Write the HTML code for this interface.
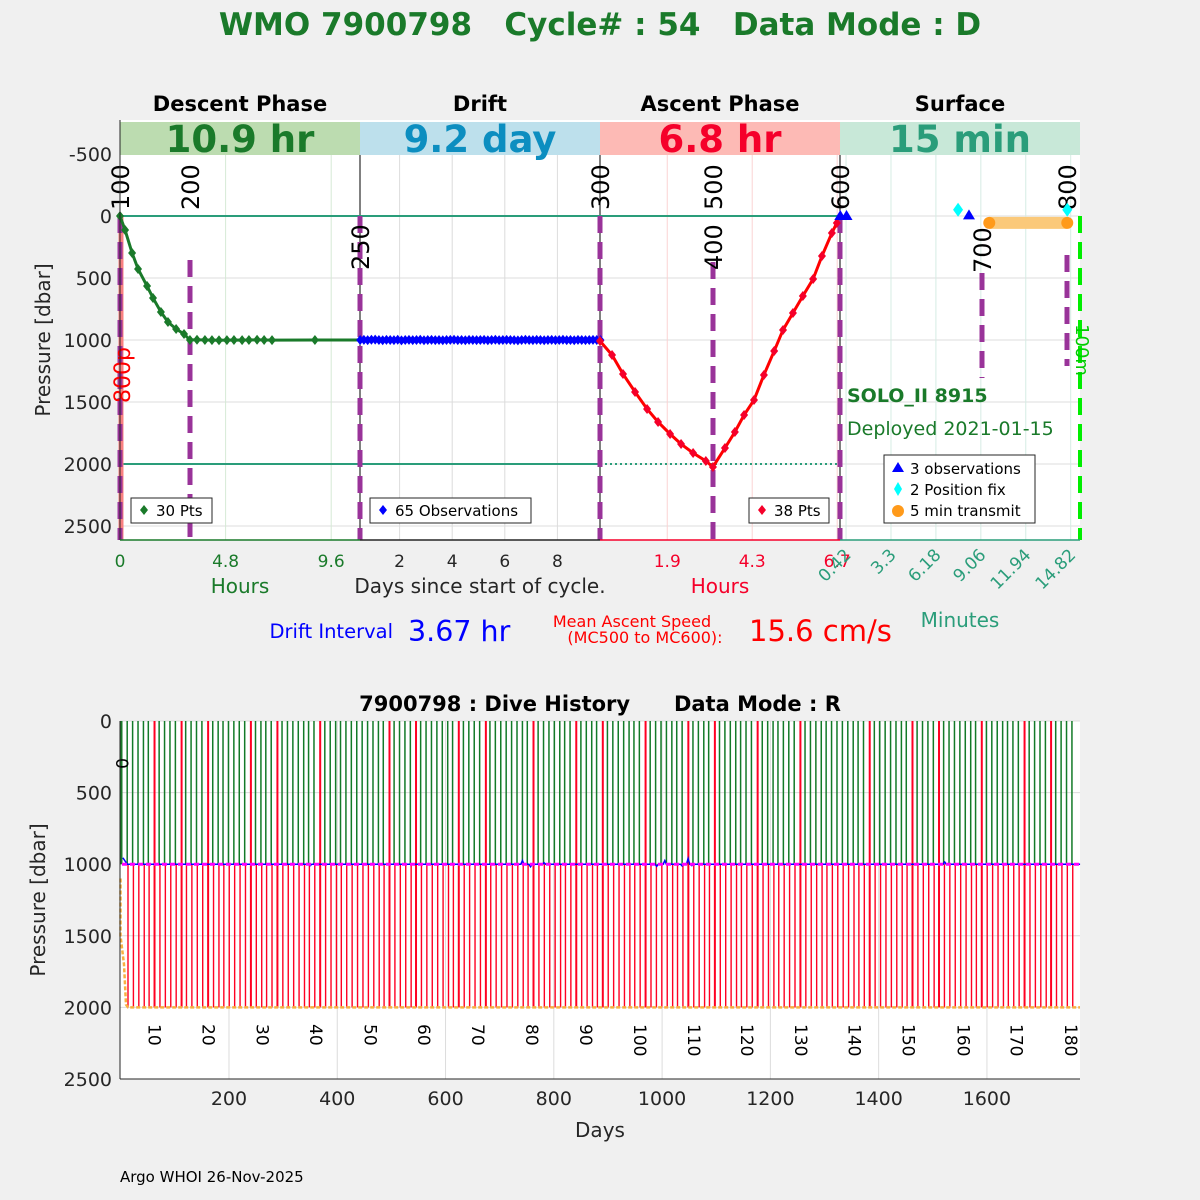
<!DOCTYPE html>
<html><head><meta charset="utf-8"><title>WMO 7900798 Cycle 54</title>
<style>
html,body{margin:0;padding:0;background:#f0f0f0;}
svg{display:block;font-family:"DejaVu Sans","Liberation Sans",sans-serif;}
</style></head>
<body>
<svg id="chart" width="1200" height="1200" viewBox="0 0 1200 1200" xmlns="http://www.w3.org/2000/svg">
<rect x="0" y="0" width="1200" height="1200" fill="#f0f0f0"/>
<text x="600" y="35" text-anchor="middle" font-size="31" font-weight="bold" fill="#1a7a2a" style="white-space:pre">WMO 7900798   Cycle# : 54   Data Mode : D</text>

<g id="topPanel"></g>
<g id="bottomPanel"></g>

<text x="120" y="1182" font-size="15" fill="#000">Argo WHOI 26-Nov-2025</text>
</svg>
<script>
// ---------- TOP PANEL DATA ----------
const pressureTicks = [-500, 0, 500, 1000, 1500, 2000, 2500];
const descentHours = [0,0.23,0.55,0.82,1.23,1.5,1.86,2.18,2.55,2.91,3.18,3.5,3.86,4.18,4.5,4.86,5.18,5.55,5.86,6.23,6.55,6.91,8.86];
const descentPres  = [0,113,298,427,565,661,774,855,911,952,1000,998,1000,1001,1002,1001,1000,1001,1000,998,1000,1001,1000];
const driftPres = [1000,999,1001,998,997,1000,1002,999,1000,1001,998,1003,1000,999,1001,1000,998,1002,1000,999,1001,1000,1002,1000,999,998,1001,1000,1002,999,1000,1001,1000,999,1002,1000,998,1001,1000,999,1000,1001,1003,1000,998,1000,1001,999,1000,1002,1000,999,1001,1000,998,1001,1000,1002,999,1000,1001,1000,999,1000,1001];
const ascentHours = [0,0.34,0.65,0.99,1.33,1.64,1.98,2.29,2.63,2.99,3.19,3.53,3.81,4.07,4.35,4.63,4.92,5.17,5.45,5.73,6.02,6.27,6.55,6.69];
const ascentPres  = [1008,1121,1274,1419,1556,1661,1758,1839,1911,1976,2024,1871,1742,1605,1484,1282,1089,919,782,645,508,323,137,56];
const surfObsMin = [0.05,0.45,8.3];
const surfObsPres = [0,0,-5];
const surfFixMin = [7.6,14.6];
const surfFixPres = [-50,-50];
const surfTxMin = [9.6,14.6];
const surfTxPres = [55,55];
const descentTicks = [0,4.8,9.6];
const driftTicks = [2,4,6,8];
const ascentTicks = [1.9,4.3,6.7];
const surfTicks = [0.42,3.3,6.18,9.06,11.94,14.82];

// ---------- BOTTOM PANEL DATA ----------
const histPresTicks = [0,500,1000,1500,2000,2500];
const histDayTicks = [200,400,600,800,1000,1200,1400,1600];
const cycleDays = [12,22,32,42,51,61,71,81,91,101,111,120,130,140,150,160,170,180,189,199,
209,219,229,239,249,259,268,278,288,298,308,318,328,338,347,357,367,377,387,397,
406,416,426,436,446,456,466,476,485,495,505,515,525,535,544,554,564,574,584,594,
604,613,623,633,643,653,663,673,682,692,702,712,722,732,742,751,761,771,781,791,
801,811,820,830,840,850,860,870,879,889,899,909,919,929,939,948,958,968,978,988,
998,1008,1018,1027,1037,1047,1057,1067,1077,1086,1096,1106,1116,1126,1136,1145,1155,1165,1175,1185,
1195,1205,1214,1224,1234,1244,1254,1264,1274,1284,1294,1303,1313,1323,1333,1343,1353,1362,1372,1382,
1392,1402,1412,1422,1432,1442,1451,1461,1471,1481,1491,1501,1510,1520,1530,1540,1550,1560,1570,1579,
1589,1599,1609,1619,1629,1638,1648,1658,1668,1678,1688,1698,1708,1717,1727,1737,1747,1757];
const fullRedCycles = [5,10,15,23,28,36,49,54,62,67,76,84,89,97,105,110,118,126,139,147,152,160,168,173];
const cycleLabels = ["10","20","30","40","50","60","70","80","90","100","110","120","130","140","150","160","170","180"];
const cycleLabelDays = [62,162,262,361,461,560,660,760,859,959,1059,1157,1257,1355,1455,1557,1655,1755];
const driftBlipDays = [350,742,757,782,990,1005,1037,1048,1055,1522];
const driftBlipPres = [1010,975,1018,990,1015,975,1012,960,1010,985];

// ---------- SCALES ----------
const yT = p => 216 + p*0.124;
const xD = h => 120 + 22*h;
const xR = d => 347 + 26.3*d;
const xA = h => 600 + 35.4*h;
const xS = m => 839.5 + 15.6*m;
const xB = d => 120.7 + 0.5414*d;
const yB = p => 721 + p*0.1432;

const NS = "http://www.w3.org/2000/svg";
function mk(parent, tag, attrs, txt){
  const e = document.createElementNS(NS, tag);
  for (const k in attrs) e.setAttribute(k, attrs[k]);
  if (txt !== undefined) e.textContent = txt;
  parent.appendChild(e);
  return e;
}
const tp = document.getElementById('topPanel');
const bot = document.getElementById('bottomPanel');

// ---------- TOP PANEL ----------
let el;
el = mk(tp,'rect',{x:120,y:120,width:960,height:420,fill:'#fff'});



pressureTicks.forEach(p=>{
  el = mk(tp,'line',{x1:120,x2:1080,y1:yT(p),y2:yT(p),stroke:'#dcdcdc','stroke-width':1});
  
  
  el = mk(tp,'text',{x:112,y:yT(p)+7,'text-anchor':'end','font-size':19,fill:'#262626'},String(p));
  
  
});
descentTicks.forEach(h=>{ if(h>0){ el=mk(tp,'line',{x1:xD(h),x2:xD(h),y1:155,y2:540,stroke:'#d6ead6'});  }});
driftTicks.forEach(d=>{ el=mk(tp,'line',{x1:xR(d),x2:xR(d),y1:155,y2:540,stroke:'#dcdcdc'});  });
ascentTicks.forEach(h=>{ el=mk(tp,'line',{x1:xA(h),x2:xA(h),y1:155,y2:540,stroke:'#fbd3d3'});  });
surfTicks.forEach(m=>{ el=mk(tp,'line',{x1:xS(m),x2:xS(m),y1:155,y2:540,stroke:'#d6ece4'});  });

const bands = [[120,'#bcdcb0','10.9 hr','#1a7a2a','Descent Phase'],[360,'#bde0ec','9.2 day','#0c8ec0','Drift'],[600,'#fdbab5','6.8 hr','#f5002a','Ascent Phase'],[840,'#c8e8d8','15 min','#2a9d7a','Surface']];
bands.forEach(b=>{
  el = mk(tp,'rect',{x:b[0],y:122,width:240,height:33,fill:b[1]});
  
  
  el = mk(tp,'text',{x:b[0]+120,y:152,'text-anchor':'middle','font-size':37,'font-weight':'bold',fill:b[3]},b[2]);
  
  
  el = mk(tp,'text',{x:b[0]+120,y:111,'text-anchor':'middle','font-size':21,'font-weight':'bold',fill:'#000'},b[4]);
  
  
});

[360,600,840].forEach(x=>{ el=mk(tp,'line',{x1:x,x2:x,y1:155,y2:540,stroke:'#000','stroke-width':1});  });

el = mk(tp,'line',{x1:120,x2:840,y1:yT(0),y2:yT(0),stroke:'#2a9d7a','stroke-width':2});  
el = mk(tp,'line',{x1:120,x2:600,y1:yT(2000),y2:yT(2000),stroke:'#2a9d7a','stroke-width':2});  
el = mk(tp,'line',{x1:600,x2:840,y1:yT(2000),y2:yT(2000),stroke:'#2a9d7a','stroke-width':2,'stroke-dasharray':'2 3'});  

el = mk(tp,'line',{x1:121,x2:121,y1:216,y2:540,stroke:'#f88080','stroke-width':5});  

const dashLines = [[120,216,540],[190,260,540],[360,216,540],[600,216,540],[713,262,540],[840,216,540],[982,273,378],[1067,255,366]];
dashLines.forEach(d=>{
  el = mk(tp,'line',{x1:d[0],x2:d[0],y1:d[1],y2:d[2],stroke:'#993399','stroke-width':5,'stroke-dasharray':'17 9'});
  
  
});
el = mk(tp,'line',{x1:1080,x2:1080,y1:216,y2:540,stroke:'#00ee00','stroke-width':4,'stroke-dasharray':'17 9'});  

const msgLbl = [[120,'100',210],[190,'200',210],[360,'250',270],[600,'300',210],[713,'500',210],[713,'400',270],[840,'600',210],[982,'700',273],[1067,'800',210]];
msgLbl.forEach(m=>{
  el = mk(tp,'text',{x:0,y:0,'font-size':24,fill:'#000',transform:`translate(${m[0]+9},${m[2]}) rotate(-90)`},m[1]);
  
  
});
el = mk(tp,'text',{x:0,y:0,'font-size':22,fill:'#ff0000',transform:'translate(130,375) rotate(-90)','text-anchor':'middle'},'800p');  
el = mk(tp,'text',{x:0,y:0,'font-size':18,fill:'#00cc00',transform:'translate(1076,350) rotate(90)','text-anchor':'middle'},'100m');  

el = mk(tp,'polyline',{points:descentHours.map((h,i)=>`${xD(h)},${yT(descentPres[i])}`).join(' ')+` 360,${yT(1000)}`,fill:'none',stroke:'#1a7a2a','stroke-width':3});
 
descentHours.forEach((h,i)=>{
  const x=xD(h), y=yT(descentPres[i]);
  el = mk(tp,'path',{d:`M${x},${y-5}L${x+4},${y}L${x},${y+5}L${x-4},${y}Z`,fill:'#1a7a2a'});
   
});
const driftPts = driftPres.map((p,i)=>[xR(0.5+i*0.1428), yT(p)]);
el = mk(tp,'polyline',{points:driftPts.map(q=>q.join(',')).join(' '),fill:'none',stroke:'#0000ff','stroke-width':3});
 
driftPts.forEach(q=>{
  el = mk(tp,'path',{d:`M${q[0]},${q[1]-5}L${q[0]+4},${q[1]}L${q[0]},${q[1]+5}L${q[0]-4},${q[1]}Z`,fill:'#0000ff'});
   
});
el = mk(tp,'polyline',{points:ascentHours.map((h,i)=>`${xA(h)},${yT(ascentPres[i])}`).join(' '),fill:'none',stroke:'#ff0000','stroke-width':3});
 
ascentHours.forEach((h,i)=>{
  const x=xA(h), y=yT(ascentPres[i]);
  el = mk(tp,'path',{d:`M${x},${y-5}L${x+4},${y}L${x},${y+5}L${x-4},${y}Z`,fill:'#f5002a'});
   
});
el = mk(tp,'line',{x1:xS(surfTxMin[0]),x2:xS(surfTxMin[1]),y1:yT(surfTxPres[0]),y2:yT(surfTxPres[1]),stroke:'#fbc97a','stroke-width':12});
 
surfTxMin.forEach((m,i)=>{ el=mk(tp,'circle',{cx:xS(m),cy:yT(surfTxPres[i]),r:6,fill:'#ff9a1a'});  });
surfObsMin.forEach((m,i)=>{ const x=xS(m),y=yT(surfObsPres[i]); el=mk(tp,'path',{d:`M${x},${y-6}L${x+6},${y+4}L${x-6},${y+4}Z`,fill:'#0000ff'});  });
surfFixMin.forEach((m,i)=>{ const x=xS(m),y=yT(surfFixPres[i]); el=mk(tp,'path',{d:`M${x},${y-7}L${x+5},${y}L${x},${y+7}L${x-5},${y}Z`,fill:'#00ffff'});  });

el = mk(tp,'text',{x:847,y:402,'font-size':19,'font-weight':'bold',fill:'#1a7a2a'},'SOLO_II 8915');  
el = mk(tp,'text',{x:847,y:435,'font-size':19,fill:'#1a7a2a'},'Deployed 2021-01-15');  

function legendBox(x,y,w,h,name){ const r=mk(tp,'rect',{x:x,y:y,width:w,height:h,fill:'#fff',stroke:'#262626','stroke-width':1});   }
legendBox(131,498,81,25,'descent-legend');
el=mk(tp,'path',{d:'M144,505L148,510L144,515L140,510Z',fill:'#1a7a2a'});  
el=mk(tp,'text',{x:156,y:516,'font-size':15,fill:'#000'},'30 Pts');  
legendBox(370,498,161,25,'drift-legend');
el=mk(tp,'path',{d:'M383,505L387,510L383,515L379,510Z',fill:'#0000ff'});  
el=mk(tp,'text',{x:395,y:516,'font-size':15,fill:'#000'},'65 Observations');  
legendBox(749,498,80,25,'ascent-legend');
el=mk(tp,'path',{d:'M762,505L766,510L762,515L758,510Z',fill:'#f5002a'});  
el=mk(tp,'text',{x:774,y:516,'font-size':15,fill:'#000'},'38 Pts');  
legendBox(884,455,151,68,'surface-legend');
el=mk(tp,'path',{d:'M898,462L904,472L892,472Z',fill:'#0000ff'});  
el=mk(tp,'text',{x:910,y:474,'font-size':15,fill:'#000'},'3 observations');  
el=mk(tp,'path',{d:'M898,482L902,489L898,496L894,489Z',fill:'#00ffff'});  
el=mk(tp,'text',{x:910,y:495,'font-size':15,fill:'#000'},'2 Position fix');  
el=mk(tp,'circle',{cx:898,cy:511,r:6,fill:'#ff9a1a'});  
el=mk(tp,'text',{x:910,y:516,'font-size':15,fill:'#000'},'5 min transmit');  

el=mk(tp,'line',{x1:120,x2:120,y1:120,y2:540,stroke:'#262626'});  
[[120,360,'#1a7a2a'],[360,600,'#262626'],[600,840,'#f5002a'],[840,1080,'#2a9d7a']].forEach(s=>{
  el=mk(tp,'line',{x1:s[0],x2:s[1],y1:540,y2:540,stroke:s[2],'stroke-width':1.5});  
});
descentTicks.forEach(h=>{ el=mk(tp,'text',{x:xD(h),y:567,'text-anchor':'middle','font-size':17,fill:'#1a7a2a'},String(h));  });
driftTicks.forEach(d=>{ el=mk(tp,'text',{x:xR(d),y:567,'text-anchor':'middle','font-size':17,fill:'#262626'},String(d));  });
ascentTicks.forEach(h=>{ el=mk(tp,'text',{x:xA(h),y:567,'text-anchor':'middle','font-size':17,fill:'#f5002a'},String(h));  });
surfTicks.forEach(m=>{ el=mk(tp,'text',{x:0,y:0,'text-anchor':'end','font-size':17,fill:'#2a9d7a',transform:`translate(${xS(m)+6},${556}) rotate(-45)`},String(m));  });
el=mk(tp,'text',{x:240,y:593,'text-anchor':'middle','font-size':20,fill:'#1a7a2a'},'Hours');  
el=mk(tp,'text',{x:480,y:593,'text-anchor':'middle','font-size':20,fill:'#262626'},'Days since start of cycle.');  
el=mk(tp,'text',{x:720,y:593,'text-anchor':'middle','font-size':20,fill:'#f5002a'},'Hours');  
el=mk(tp,'text',{x:960,y:627,'text-anchor':'middle','font-size':20,fill:'#2a9d7a'},'Minutes');  
el=mk(tp,'text',{x:0,y:0,'text-anchor':'middle','font-size':20,fill:'#262626',transform:'translate(50,340) rotate(-90)'},'Pressure [dbar]');  
el=mk(tp,'text',{x:393,y:638,'text-anchor':'end','font-size':19.5,fill:'#0000ff'},'Drift Interval');  
el=mk(tp,'text',{x:408,y:641,'font-size':28.5,fill:'#0000ff'},'3.67 hr');  
el=mk(tp,'text',{x:632,y:627,'text-anchor':'middle','font-size':16,fill:'#ff0000'},'Mean Ascent Speed');  
el=mk(tp,'text',{x:645,y:643,'text-anchor':'middle','font-size':16,fill:'#ff0000'},'(MC500 to MC600):');  
el=mk(tp,'text',{x:749,y:641,'font-size':29,fill:'#ff0000'},'15.6 cm/s');  

// ---------- BOTTOM PANEL ----------
el=mk(bot,'rect',{x:120,y:721,width:960,height:358,fill:'#fff'});  
histPresTicks.forEach(p=>{
  el=mk(bot,'line',{x1:120,x2:1080,y1:yB(p),y2:yB(p),stroke:'#dcdcdc'});  
  el=mk(bot,'text',{x:112,y:yB(p)+7,'text-anchor':'end','font-size':19,fill:'#262626'},String(p));  
});
histDayTicks.forEach(d=>{
  el=mk(bot,'line',{x1:xB(d),x2:xB(d),y1:721,y2:1079,stroke:'#dcdcdc'});  
  el=mk(bot,'text',{x:xB(d),y:1105,'text-anchor':'middle','font-size':19,fill:'#262626'},String(d));  
});
el=mk(bot,'line',{x1:121,x2:121,y1:721,y2:yB(1000),stroke:'#1a7a2a','stroke-width':3});  
cycleDays.forEach((d,i)=>{
  const x=xB(d);
  const full = fullRedCycles.includes(i);
  if(!full){
    el=mk(bot,'line',{x1:x,x2:x,y1:721,y2:yB(1000),stroke:'#137a28','stroke-width':1.5});  
  }
  el=mk(bot,'line',{x1:x+0.8,x2:x+0.8,y1:full?721:yB(1000),y2:yB(2000),stroke:'#ff0022','stroke-width':full?2:1.4});  
});
let dpts=[`${xB(4)},${yB(955)}`,`${xB(12)},${yB(1000)}`];
driftBlipDays.forEach((d,i)=>{ dpts.push(`${xB(d-3)},${yB(1000)}`,`${xB(d)},${yB(driftBlipPres[i])}`,`${xB(d+3)},${yB(1000)}`); });
dpts.push(`${xB(1772)},${yB(1000)}`);
el=mk(bot,'polyline',{points:dpts.join(' '),fill:'none',stroke:'#0000ff','stroke-width':1.5});  
el=mk(bot,'line',{x1:122,x2:1080,y1:yB(1000),y2:yB(1000),stroke:'#ff00ff','stroke-width':3,'stroke-dasharray':'5 3'});  
el=mk(bot,'polyline',{points:`120.5,${yB(1100)} 120.5,${yB(1500)} 124,${yB(1700)} 126,${yB(1980)} 128,${yB(2000)} 1080,${yB(2000)}`,fill:'none',stroke:'#f8b040','stroke-width':2.5,'stroke-dasharray':'4 2'});  
cycleLabels.forEach((c,i)=>{
  el=mk(bot,'text',{x:0,y:0,'font-size':17,fill:'#000',transform:`translate(${xB(cycleLabelDays[i])-6},1024) rotate(90)`},c);  
});
el=mk(bot,'text',{x:0,y:0,'font-size':17,fill:'#000',transform:'translate(116,758) rotate(90)'},'0');  
el=mk(bot,'line',{x1:120,x2:120,y1:721,y2:1079,stroke:'#262626'});  
el=mk(bot,'line',{x1:120,x2:1080,y1:1079,y2:1079,stroke:'#262626'});  
el=mk(bot,'text',{x:600,y:1137,'text-anchor':'middle','font-size':20,fill:'#262626'},'Days');  
el=mk(bot,'text',{x:0,y:0,'text-anchor':'middle','font-size':20,fill:'#262626',transform:'translate(45,900) rotate(-90)'},'Pressure [dbar]');  
el=mk(bot,'text',{x:600,y:711,'text-anchor':'middle','font-size':21,'font-weight':'bold',fill:'#000',style:'white-space:pre'},'7900798 : Dive History      Data Mode : R');  
</script>
</body></html>
